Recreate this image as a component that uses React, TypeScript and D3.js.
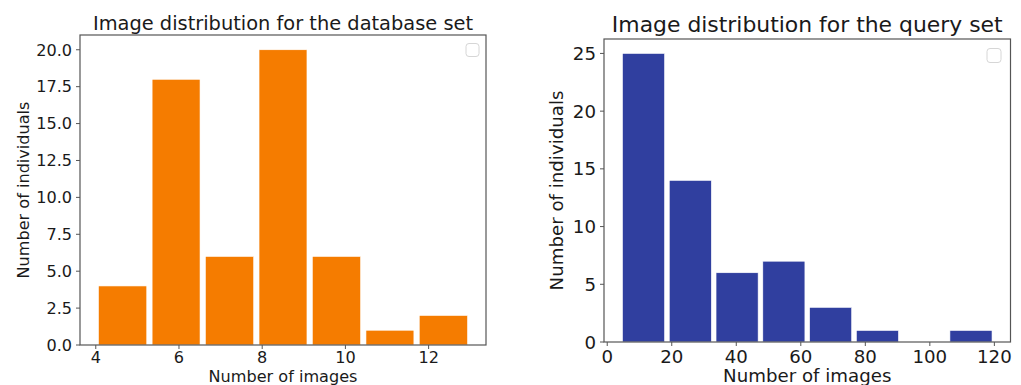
import React from 'react';
import * as d3 from 'd3';

// database set histogram
const dbEdges = [4, 5.29, 6.57, 7.86, 9.14, 10.43, 11.71, 13];
const dbCounts = [4, 18, 6, 20, 6, 1, 2];
const dbXTicks = [4, 6, 8, 10, 12];
const dbYTicks = [0, 2.5, 5, 7.5, 10, 12.5, 15, 17.5, 20];

// query set histogram
const qEdges = [4, 18.5, 33, 47.5, 62, 76.5, 91, 105.5, 120];
const qCounts = [25, 14, 6, 7, 3, 1, 0, 1];
const qXTicks = [0, 20, 40, 60, 80, 100, 120];
const qYTicks = [0, 5, 10, 15, 20, 25];

const FONT = "'DejaVu Sans', sans-serif";
const TXT = '#1a1a1a';
const SPINE = '#555';

type PanelProps = {
  title: string;
  edges: number[];
  counts: number[];
  xTicks: number[];
  yTicks: number[];
  yFmt: (v: number) => string;
  color: string;
  box: { left: number; right: number; top: number; bottom: number };
  fs: number;
  titleFs: number;
  titleY: number;
  xLabelY: number;
  yLabelX: number;
  tickLabelY: number;
  legend: { x: number; y: number; s: number };
};

function Panel(p: PanelProps) {
  const { box } = p;
  const rw = 0.9;
  const bars = p.counts.map((c, i) => {
    const w = p.edges[i + 1] - p.edges[i];
    return { x0: p.edges[i] + (w * (1 - rw)) / 2, x1: p.edges[i + 1] - (w * (1 - rw)) / 2, c };
  });
  const lo = bars[0].x0;
  const hi = bars[bars.length - 1].x1;
  const pad = (hi - lo) * 0.05;
  const x = d3.scaleLinear().domain([lo - pad, hi + pad]).range([box.left, box.right]);
  const yMax = d3.max(p.counts) as number;
  const y = d3.scaleLinear().domain([0, yMax * 1.05]).range([box.bottom, box.top]);
  const cx = (box.left + box.right) / 2;
  const cy = (box.top + box.bottom) / 2;

  return (
    <g>
      {bars.filter(b => b.c > 0).map((b, i) => (
        <rect
          key={i}
          x={x(b.x0)}
          y={y(b.c)}
          width={x(b.x1) - x(b.x0)}
          height={y(0) - y(b.c)}
          fill={p.color}
          stroke="#fff"
          strokeWidth={0.6}
        />
      ))}
      <rect
        x={box.left}
        y={box.top}
        width={box.right - box.left}
        height={box.bottom - box.top}
        fill="none"
        stroke={SPINE}
        strokeWidth={1.2}
      />
      {p.xTicks.map(t => (
        <g key={t} transform={`translate(${x(t)},${box.bottom})`}>
          <line y2={4} stroke={SPINE} strokeWidth={1} />
          <text y={p.tickLabelY - box.bottom} textAnchor="middle" fontSize={p.fs} fill={TXT} fontFamily={FONT}>
            {t}
          </text>
        </g>
      ))}
      {p.yTicks.map(t => (
        <g key={t} transform={`translate(${box.left},${y(t)})`}>
          <line x2={-4} stroke={SPINE} strokeWidth={1} />
          <text x={-8} dy="0.36em" textAnchor="end" fontSize={p.fs} fill={TXT} fontFamily={FONT}>
            {p.yFmt(t)}
          </text>
        </g>
      ))}
      <rect
        x={p.legend.x}
        y={p.legend.y}
        width={p.legend.s}
        height={p.legend.s}
        rx={3}
        fill="#fff"
        stroke="#d6d6d6"
        strokeWidth={1}
      />
      <text x={cx} y={p.titleY} textAnchor="middle" fontSize={p.titleFs} fill={TXT} fontFamily={FONT}>
        {p.title}
      </text>
      <text x={cx} y={p.xLabelY} textAnchor="middle" fontSize={p.fs} fill={TXT} fontFamily={FONT}>
        Number of images
      </text>
      <text
        transform={`translate(${p.yLabelX},${cy}) rotate(-90)`}
        textAnchor="middle"
        fontSize={p.fs}
        fill={TXT}
        fontFamily={FONT}
      >
        Number of individuals
      </text>
    </g>
  );
}

export default function App() {
  return (
    <svg
      width={1021}
      height={385}
      style={{ position: 'fixed', left: 0, top: 0, background: '#fff' }}
    >
      <rect width={1021} height={385} fill="#fff" />
      <Panel
        title="Image distribution for the database set"
        edges={dbEdges}
        counts={dbCounts}
        xTicks={dbXTicks}
        yTicks={dbYTicks}
        yFmt={d3.format('.1f')}
        color="#f57c00"
        box={{ left: 80, right: 486, top: 35, bottom: 345 }}
        fs={16.1}
        titleFs={19.4}
        titleY={29.5}
        xLabelY={381.5}
        yLabelX={29}
        tickLabelY={363}
        legend={{ x: 466, y: 43.5, s: 13 }}
      />
      <Panel
        title="Image distribution for the query set"
        edges={qEdges}
        counts={qCounts}
        xTicks={qXTicks}
        yTicks={qYTicks}
        yFmt={d3.format('d')}
        color="#303f9f"
        box={{ left: 604, right: 1010.5, top: 39, bottom: 342 }}
        fs={18.2}
        titleFs={21.9}
        titleY={31.5}
        xLabelY={382}
        yLabelX={563}
        tickLabelY={363}
        legend={{ x: 987, y: 48.5, s: 14 }}
      />
    </svg>
  );
}
